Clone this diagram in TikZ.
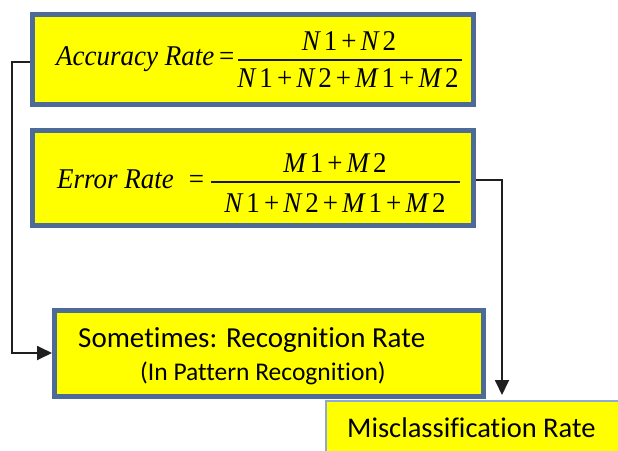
\documentclass[tikz,border=0pt]{standalone}
\usepackage{fontspec}
\setmainfont{Liberation Serif}
\newfontfamily\calibrifont[Ligatures=NoCommon]{Carlito}
\usetikzlibrary{arrows.meta}
\definecolor{boxyellow}{HTML}{FFFF00}
\definecolor{boxborder}{HTML}{4D6B98}
\definecolor{lightborder}{HTML}{8DA9D4}
\newcommand\gp{\hspace{0.15em}}
\newcommand\vN{{\itshape N}}
\newcommand\vM{{\itshape M}}
\newcommand\tall[1]{\scalebox{1}[1.06]{#1}}
\begin{document}
\begin{tikzpicture}[x=1pt,y=-1pt,
  fbox/.style={draw=boxborder, fill=boxyellow, line width=5pt, rectangle, inner sep=0pt},
  conn/.style={draw=black!88, line width=1.8pt, -{Triangle[length=15pt,width=14pt]}},
  eqtxt/.style={font=\fontsize{27}{31}\selectfont, inner sep=0pt},
  bar/.style={line width=1.6pt, black!90},
  sanstxt/.style={inner sep=0pt, anchor=base west}]
\useasboundingbox (0,0) rectangle (618,450);
% boxes
\node[fbox, minimum width=441pt, minimum height=90pt] (acc) at (253,59.5) {};
\node[fbox, minimum width=441pt, minimum height=95pt] (err) at (253,178) {};
\node[fbox, line width=5pt, minimum width=429pt, minimum height=86pt] (rec) at (269,353) {};
\node[fbox, draw=lightborder, line width=1.5pt, minimum width=300pt, minimum height=60pt, anchor=north west] (mis) at (325,400) {};
% accuracy formula
\node[eqtxt, anchor=base west] (acclbl) at (56,65) {\tall{\textit{Accuracy Rate}\hspace{0.18em}=}};
\node[eqtxt, anchor=base] (accnum) at (349,50) {\tall{\vN\gp 1\gp+\gp\vN\gp 2}};
\node[eqtxt, anchor=base] (accden) at (348,87) {\tall{\vN\gp 1\gp+\gp\vN\gp 2\gp+\gp\vM\gp 1\gp+\gp\vM\gp 2}};
\draw[bar] (238,60) -- (462,60);
% error formula
\node[eqtxt, anchor=base west] (errlbl) at (57,188) {\tall{\textit{Error Rate}\hspace{0.55em}=}};
\node[eqtxt, anchor=base] (errnum) at (335,172) {\tall{\vM\gp 1\gp+\gp\vM\gp 2}};
\node[eqtxt, anchor=base] (errden) at (335,212) {\tall{\vN\gp 1\gp+\gp\vN\gp 2\gp+\gp\vM\gp 1\gp+\gp\vM\gp 2}};
\draw[bar] (211,182) -- (460,182);
% sans texts
\node[sanstxt, font=\calibrifont\fontsize{29}{33}\selectfont] (rec1) at (78,347) {Sometimes: Recognition Rate};
\node[sanstxt, font=\calibrifont\fontsize{25.5}{30}\selectfont] (rec2) at (140,380) {(In Pattern Recognition)};
\node[sanstxt, font=\calibrifont\fontsize{28.5}{33}\selectfont] (mist) at (347,437) {Misclassification Rate};
% connectors
\coordinate (lx) at (12,0);
\coordinate (rx) at (502,0);
\draw[conn] ([yshift=-2.5pt]acc.west) -- ([yshift=-2.5pt]acc.west -| lx) |- (rec.west);
\draw[conn, shorten >=5pt] ([yshift=-2pt]err.east) -- ([yshift=-2pt]err.east -| rx) -- (rx |- mis.north);
\end{tikzpicture}
\end{document}
